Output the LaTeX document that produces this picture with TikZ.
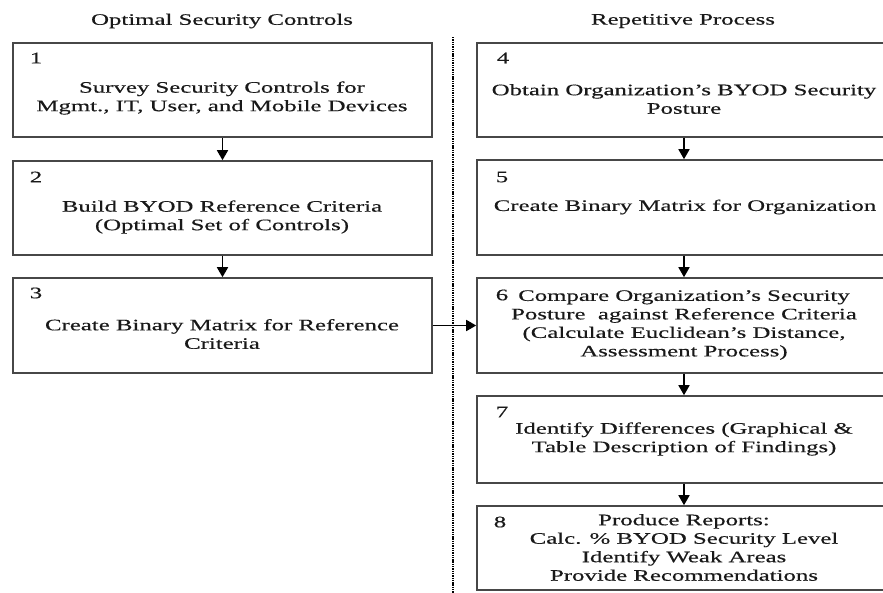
\documentclass[tikz,border=0pt]{standalone}
\usepackage{fontspec}
\setmainfont{Liberation Serif}[FakeStretch=1.55,FakeBold=0.4]
\usetikzlibrary{arrows.meta}
\begin{document}
\begin{tikzpicture}[x=1pt,y=-1pt,
  box/.style={draw=black!72, line width=1.6pt, rectangle, inner sep=0pt},
  txt/.style={align=center, font=\fontsize{16}{18.5}\selectfont, text=black!90, inner sep=0pt},
  num/.style={font=\fontsize{16}{18.5}\selectfont, text=black!90, inner sep=0pt},
  flow/.style={line width=1.7pt, draw=black, -{Triangle[length=10pt,width=11pt]}},
  divider/.style={draw=black, line width=2.2pt, dash pattern=on 1.4pt off 0.9pt}
]
\useasboundingbox (0,0) rectangle (883,592);
\clip (0,0) rectangle (883,592);

% titles
\node[txt] (h1) at (222,21) {Optimal Security Controls};
\node[txt] (h2) at (683,21) {Repetitive Process};

% divider
\coordinate (dtop) at (453,37);
\coordinate (dbot) at (453,593);
\draw[divider] (dtop) -- (dbot);

% left column boxes
\node[box, minimum width=419pt, minimum height=94pt] (b1) at (222.5,90) {};
\node[box, minimum width=419pt, minimum height=94pt] (b2) at (222.5,208) {};
\node[box, minimum width=419pt, minimum height=95pt] (b3) at (222.5,325.5) {};

% right column boxes
\node[box, minimum width=414pt, minimum height=94pt] (b4) at (684,90) {};
\node[box, minimum width=414pt, minimum height=95pt] (b5) at (684,207.5) {};
\node[box, minimum width=414pt, minimum height=95pt] (b6) at (684,325.5) {};
\node[box, minimum width=414pt, minimum height=87pt] (b7) at (684,439.5) {};
\node[box, minimum width=414pt, minimum height=84pt] (b8) at (684,548) {};

% numbers
\node[num] (n1) at (36,58) {1};
\node[num] (n2) at (36,177) {2};
\node[num] (n3) at (36,293) {3};
\node[num] (n4) at (503,58) {4};
\node[num] (n5) at (502,177) {5};
\node[num] (n6) at (502,295) {6};
\node[num] (n7) at (502,412) {7};
\node[num] (n8) at (500,522) {8};

% texts
\node[txt] (t1) at (222,98) {Survey Security Controls for\\Mgmt., IT, User, and Mobile Devices};
\node[txt] (t2) at (222,217) {Build BYOD Reference Criteria\\(Optimal Set of Controls)};
\node[txt] (t3) at (222,334) {Create Binary Matrix for Reference\\Criteria};
\node[txt] (t4) at (684,99) {Obtain Organization’s BYOD Security\\Posture};
\node[txt] (t5) at (685,207) {Create Binary Matrix for Organization};
\node[txt] (t6) at (684,325) {Compare Organization’s Security\\Posture\ \ against Reference Criteria\\(Calculate Euclidean’s Distance,\\Assessment Process)};
\node[txt] (t7) at (684,439) {Identify Differences (Graphical \&\\Table Description of Findings)};
\node[txt] (t8) at (684,547.5) {Produce Reports:\\Calc. \% BYOD Security Level\\Identify Weak Areas\\Provide Recommendations};

% connectors
\draw[flow] (b1) -- (b2);
\draw[flow] (b2) -- (b3);
\draw[flow] (b3) -- (b6);
\draw[flow] (b4) -- (b5);
\draw[flow] (b5) -- (b6);
\draw[flow] (b6) -- (b7);
\draw[flow] (b7) -- (b8);
\end{tikzpicture}
\end{document}
